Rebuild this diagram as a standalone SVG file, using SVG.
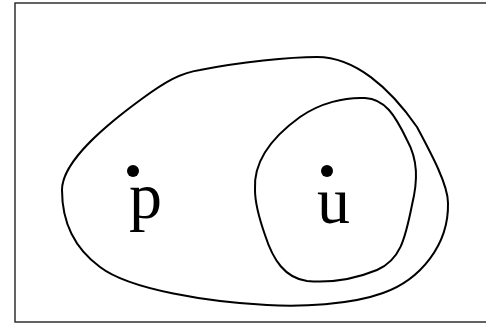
<svg xmlns="http://www.w3.org/2000/svg" width="486" height="324" viewBox="0 0 486 324">
<style>
.frame{fill:none;stroke:#222;stroke-width:1.4}
.region{fill:none;stroke:#000;stroke-width:2}
.pt{fill:#000}
.lbl{font-family:"Liberation Serif","Times New Roman",serif;font-size:66px;fill:#000}
</style>
<rect class="frame" x="15" y="3" width="480" height="319"/>
<g id="outer">
<path class="region" d="M 62,190 C 62,160 110,122 143,98 C 165,82 180,73 200,70 C 240,62 290,57 317,57 C 355,57 390,88 417,127 C 432,155 448,185 448,203 C 449,245 420,280 383,293 C 350,305 300,307 267,305 C 210,302 130,290 100,267 C 70,245 62,215 62,190 Z"/>
</g>
<g id="inner">
<path class="region" d="M 255,190 C 253,160 275,135 300,117 C 320,103 345,97 365,98 C 385,99 395,115 407,140 C 418,160 418,180 412,205 C 405,240 400,260 377,270 C 355,279 330,283 307,281 C 285,278 273,260 265,235 C 258,215 255,200 255,190 Z"/>
</g>
<g id="p">
<circle class="pt" cx="133" cy="171" r="6"/>
<text class="lbl" x="129" y="218">p</text>
</g>
<g id="u">
<circle class="pt" cx="327" cy="171" r="6"/>
<text class="lbl" x="317" y="223">u</text>
</g>
</svg>
